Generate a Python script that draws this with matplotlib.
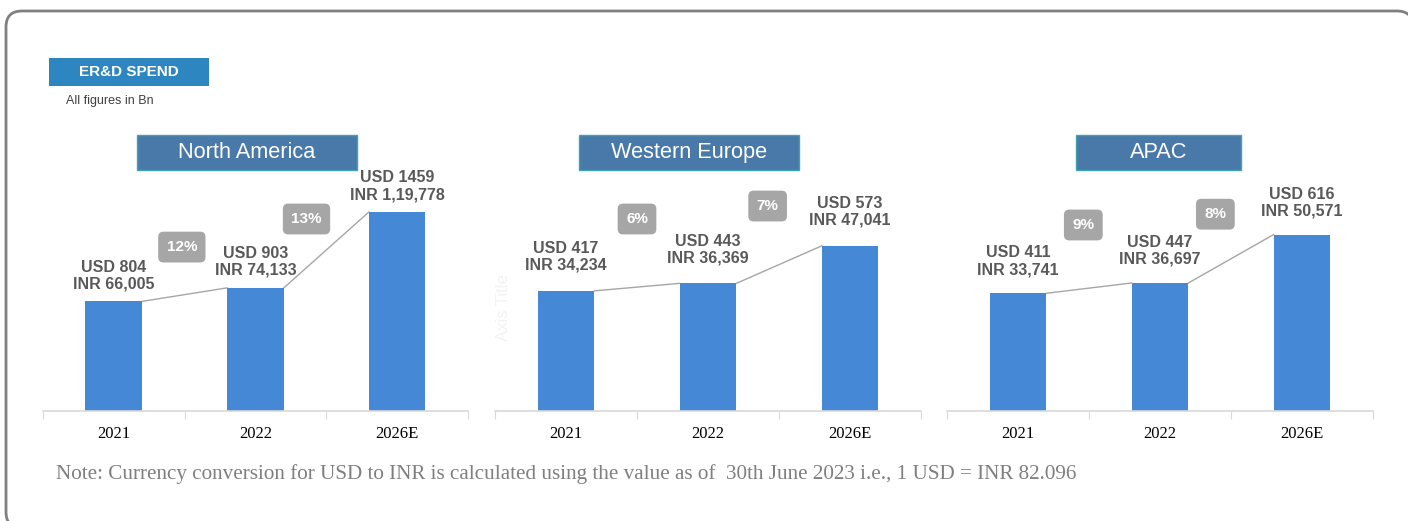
"""ER&D spend by region, three small bar panels
"""

import matplotlib
matplotlib.use("Agg")
import matplotlib.pyplot as plt
from matplotlib.patches import Rectangle, FancyBboxPatch
from matplotlib.transforms import blended_transform_factory, IdentityTransform

# data
years = ["2021", "2022", "2026E"]
regions = ["North America", "Western Europe", "APAC"]
usd_na = [804, 903, 1459]
usd_we = [417, 443, 573]
usd_apac = [411, 447, 616]
inr_na = ["66,005", "74,133", "1,19,778"]
inr_we = ["34,234", "36,369", "47,041"]
inr_apac = ["33,741", "36,697", "50,571"]
growth_na = ["12%", "13%"]
growth_we = ["6%", "7%"]
growth_apac = ["9%", "8%"]

# figure setup (pixel layout)
W, H = 1408, 521
fig = plt.figure(figsize=(W / 100, H / 100), dpi=100)
sans = "Liberation Sans"
serif = "Liberation Serif"

bar_color = "#4589d6"
label_color = "#595959"
badge_color = "#a6a6a6"


def px_box(x0, y0, x1, y1):
    """pixel box (top-left origin) -> figure fraction rect"""
    return [x0 / W, 1 - y1 / H, (x1 - x0) / W, (y1 - y0) / H]


# outer rounded frame (pixel coords), runs off the right and bottom edges
# filled white so agg does not clip the outline onto the canvas edge
frame = FancyBboxPatch((6, H - 528), 1407, 517,
                       boxstyle="round,pad=0,rounding_size=16",
                       transform=IdentityTransform(), fc="white",
                       ec="#808080", lw=2, zorder=-5)
fig.add_artist(frame)

# header tag
r = px_box(49, 58, 209, 86)
fig.add_artist(Rectangle((r[0], r[1]), r[2], r[3], transform=fig.transFigure,
                         fc="#2e86c1", ec="none"))
fig.text(r[0] + r[2] / 2, r[1] + r[3] / 2, "ER&D SPEND", ha="center",
         va="center", color="white", fontsize=11, fontweight="bold",
         family=sans)
fig.text(66 / W, 1 - 101 / H, "All figures in Bn", ha="left", va="center",
         color="#404040", fontsize=9, family=sans)

# panels
panels = [
    (usd_na, inr_na, growth_na, (43, 468), (137, 357), 1760, 10,
     [0.48, 1.36], [0.683, 0.80]),
    (usd_we, inr_we, growth_we, (495, 921), (579, 799), 833, 18,
     [0.50, 1.42], [0.80, 0.854]),
    (usd_apac, inr_apac, growth_apac, (947, 1373), (1076, 1241), 838, 16,
     [0.46, 1.39], [0.775, 0.82]),
]
base_y, top_y = 411, 171

for k, (usd, inr, growth, (ax0, ax1), (t0, t1), ymax, gap, bx, by) in enumerate(panels):
    ax = fig.add_axes(px_box(ax0, top_y, ax1, base_y))
    ax.patch.set_visible(False)
    x = range(len(years))
    ax.bar(x, usd, width=0.4, color=bar_color, zorder=2)
    ax.set_xlim(-0.5, 2.5)
    ax.set_ylim(0, ymax)

    for s in ["top", "left", "right"]:
        ax.spines[s].set_visible(False)
    ax.spines["bottom"].set_color("#d9d9d9")
    ax.spines["bottom"].set_linewidth(1.2)
    ax.set_yticks([])
    ax.set_xticks([-0.5, 0.5, 1.5, 2.5])
    ax.set_xticklabels([])
    ax.tick_params(axis="x", which="major", length=6, color="#d9d9d9")
    ax.set_xticks(list(x), minor=True)
    ax.set_xticklabels(years, minor=True, fontsize=12, family=serif)
    ax.tick_params(axis="x", which="minor", length=0, pad=11)

    # value labels
    for i, v in enumerate(usd):
        ax.annotate(f"USD {v}\nINR {inr[i]}", xy=(i, v), xytext=(0, gap),
                    textcoords="offset pixels", ha="center", va="bottom",
                    fontsize=11.5, fontweight="bold", color=label_color,
                    family=sans, linespacing=1.15)

    # connector lines
    for i in range(len(usd) - 1):
        ax.plot([i + 0.2, i + 0.8], [usd[i], usd[i + 1]], color="#a6a6a6",
                lw=1, zorder=1)

    # growth badges
    trans = blended_transform_factory(ax.transData, ax.transAxes)
    for i, g in enumerate(growth):
        ax.text(bx[i], by[i], g, transform=trans, ha="center", va="center",
                color="white", fontsize=11, fontweight="bold", family=sans,
                bbox=dict(boxstyle="round,pad=0.55,rounding_size=0.35",
                          fc=badge_color, ec="none"))

    # region title box
    r = px_box(t0, 135, t1, 170)
    fig.add_artist(Rectangle((r[0], r[1]), r[2], r[3], transform=fig.transFigure,
                             fc="#4879a8", ec="#3fa3b3", lw=1))
    fig.text(r[0] + r[2] / 2, r[1] + r[3] / 2, regions[k], ha="center",
             va="center", color="white", fontsize=15.7, family=sans)

    if k == 1:
        # faint leftover axis title
        ax.text(0.019, 0.43, "Axis Title", transform=ax.transAxes, rotation=90,
                ha="center", va="center", color="#f3f3f3", fontsize=12,
                family=sans)

# footnote
fig.text(56 / W, 1 - 474 / H,
         "Note: Currency conversion for USD to INR is calculated using the value "
         "as of  30th June 2023 i.e., 1 USD = INR 82.096",
         ha="left", va="center", color="#7f7f7f", fontsize=15.2, family=serif)

fig.savefig("out.png", dpi=100)
